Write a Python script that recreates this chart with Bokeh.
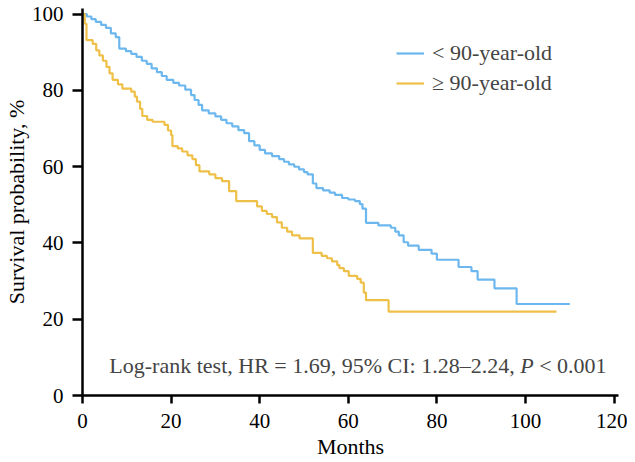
from bokeh.plotting import figure
from bokeh.models import ColumnDataSource, Legend, LegendItem, Label, Range1d, FixedTicker
from bokeh.embed import file_html
from bokeh.resources import INLINE

# ---- data ----
young_months = [0, 1.0, 2.0, 3.0, 4.2, 5.3, 6.4, 7.5, 8.3, 9.8, 11.0, 12.2, 13.4, 14.5, 15.6, 16.8,
                17.9, 19.0, 20.5, 21.8, 23.2, 24.5, 25.3, 26.2, 27.0, 28.5, 30.0, 31.3, 32.5, 33.8,
                35.2, 36.5, 37.6, 38.8, 40.0, 41.2, 42.8, 44.4, 45.5, 46.6, 47.8, 48.9, 50.0, 50.8,
                52.0, 52.8, 54.3, 55.8, 57.0, 58.6, 60.0, 61.5, 62.6, 63.2, 64.0, 66.8, 69.6, 70.6,
                71.4, 72.5, 73.5, 75.9, 78.8, 80.0, 84.9, 87.8, 89.2, 93.0, 98.0, 110.0]
young_surv = [100, 99.4, 98.7, 98.0, 97.2, 96.4, 95.0, 94.0, 91.0, 90.3, 89.6, 88.8, 87.8, 87.0, 85.8, 84.8,
              83.8, 82.8, 82.0, 81.3, 80.2, 78.8, 77.5, 76.2, 74.8, 74.0, 73.2, 72.3, 71.4, 70.6,
              69.6, 68.8, 66.7, 65.6, 64.4, 63.5, 62.8, 62.0, 61.3, 60.6, 60.0, 59.3, 58.6, 58.0,
              55.6, 54.4, 53.8, 53.2, 52.6, 51.8, 51.4, 51.0, 50.2, 49.0, 45.3, 44.6, 44.0, 43.0,
              42.0, 40.2, 39.3, 38.2, 37.2, 35.6, 33.7, 32.6, 30.4, 28.1, 24.0, 24.0]

old_months = [0, 0.5, 0.9, 2.3, 3.1, 3.8, 4.6, 5.4, 6.1, 6.8, 8.0, 9.0, 11.0, 11.8, 12.3, 13.0, 13.5,
              14.6, 15.8, 18.5, 19.3, 20.0, 20.3, 21.5, 22.5, 23.7, 24.8, 25.6, 26.4, 28.6, 30.0,
              31.5, 33.1, 34.7, 39.4, 40.5, 41.6, 42.8, 43.9, 45.0, 46.2, 47.3, 49.0, 52.0, 54.0,
              55.2, 56.3, 57.5, 58.0, 59.0, 60.1, 62.0, 62.8, 63.5, 64.0, 69.1, 107.0]
old_surv = [100, 97.5, 93.2, 92.2, 90.5, 89.2, 87.8, 86.2, 84.5, 82.8, 81.6, 80.5, 79.7, 78.4, 77.1, 75.2, 73.3,
            72.3, 71.8, 71.0, 69.5, 68.3, 65.4, 64.8, 64.0, 63.0, 62.0, 60.4, 58.8, 58.0, 57.0,
            56.2, 53.6, 51.0, 49.6, 48.4, 47.6, 46.8, 45.4, 44.0, 43.0, 42.0, 41.2, 37.4, 36.6,
            36.0, 35.2, 34.2, 33.4, 32.6, 31.4, 30.6, 29.6, 27.0, 25.0, 22.0, 22.0]

group_labels = ["< 90-year-old", "\u2265 90-year-old"]
x_ticks = [0, 20, 40, 60, 80, 100, 120]
y_ticks = [0, 20, 40, 60, 80, 100]

BLUE = "#6cb8ee"
YELLOW = "#eec048"
FONT = "Liberation Serif"

p = figure(frame_width=536, frame_height=387, output_backend="svg", toolbar_location=None,
           x_range=Range1d(0, 121), y_range=Range1d(0, 101.5),
           min_border_left=82, min_border_right=9, min_border_top=8, min_border_bottom=0)
p.outline_line_color = None
p.xgrid.visible = False
p.ygrid.visible = False

src_y = ColumnDataSource(dict(x=young_months, y=young_surv))
src_o = ColumnDataSource(dict(x=old_months, y=old_surv))
r_y = p.step("x", "y", source=src_y, mode="after", line_color=BLUE, line_width=2.2)
r_o = p.step("x", "y", source=src_o, mode="after", line_color=YELLOW, line_width=2.2)

for ax, ticks in ((p.xaxis[0], x_ticks), (p.yaxis[0], y_ticks)):
    ax.ticker = FixedTicker(ticks=ticks)
    ax.minor_tick_line_color = None
    ax.axis_line_width = 2.5
    ax.major_tick_line_width = 2.5
    ax.major_tick_in = 0
    ax.major_label_text_font = FONT
    ax.major_label_text_font_size = "21px"
    ax.major_label_text_color = "black"
    ax.axis_label_text_font = FONT
    ax.axis_label_text_font_size = "22px"
    ax.axis_label_text_font_style = "normal"
    ax.axis_label_text_color = "black"

p.xaxis.major_tick_out = 8
p.yaxis.major_tick_out = 10
p.xaxis.major_label_standoff = 10
p.yaxis.major_label_standoff = 9
p.xaxis.axis_label = "Months"
p.yaxis.axis_label = "Survival probability, %"
p.xaxis.axis_label_standoff = 3
p.yaxis.axis_label_standoff = 0

legend = Legend(items=[LegendItem(label=group_labels[0], renderers=[r_y]),
                       LegendItem(label=group_labels[1], renderers=[r_o])],
                location=(314, 299), orientation="vertical")
legend.label_text_font = FONT
legend.label_text_font_size = "22px"
legend.glyph_width = 28
legend.label_standoff = 8
legend.spacing = 4
legend.padding = 0
legend.margin = 0
legend.border_line_color = None
legend.background_fill_alpha = 0
p.add_layout(legend)

TY = 7.8
lab1 = Label(x=97.56, y=TY, text="Log-rank test, HR = 1.69, 95% CI: 1.28\u20132.24,",
             text_font=FONT, text_font_size="22px", text_align="right", text_baseline="alphabetic")
lab2 = Label(x=98.8, y=TY, text="P", text_font=FONT, text_font_size="22px",
             text_font_style="italic", text_align="left", text_baseline="alphabetic")
lab3 = Label(x=103.1, y=TY, text="< 0.001", text_font=FONT, text_font_size="22px",
             text_align="left", text_baseline="alphabetic")
for l in (lab1, lab2, lab3):
    p.add_layout(l)

open("out.html", "w").write(file_html(p, INLINE))
